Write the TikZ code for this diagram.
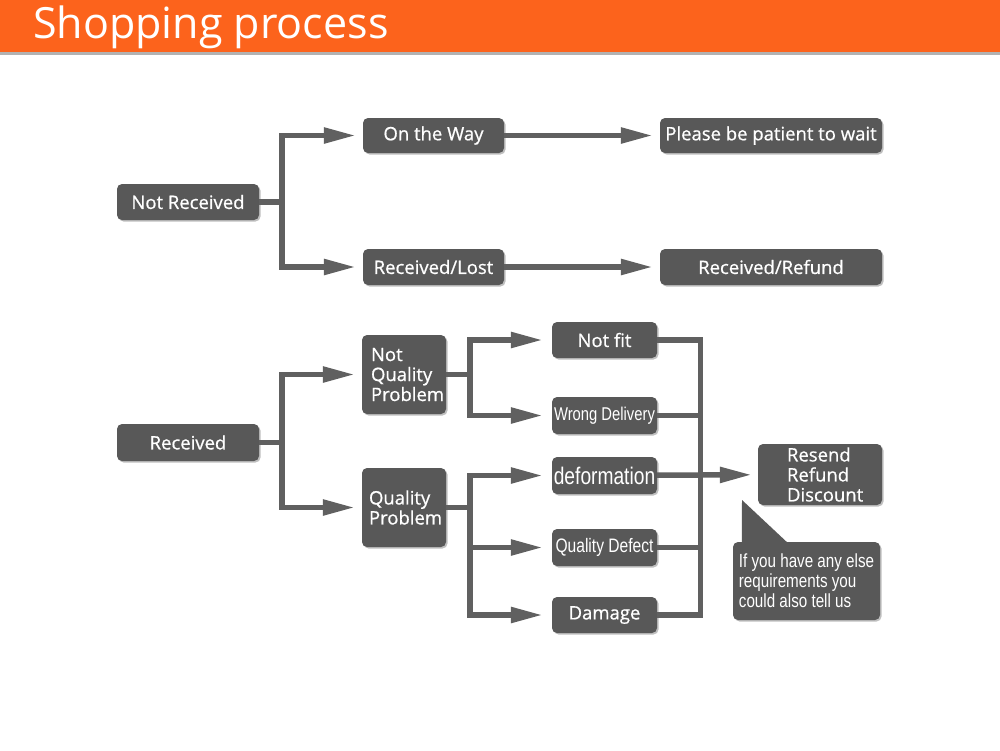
\documentclass[tikz,border=0pt]{standalone}
\usepackage{fontspec}
\setmainfont{Open Sans}
\newfontfamily\boxfont[FakeBold=0.7]{Open Sans}
\newfontfamily\narrowfont[FakeStretch=0.8]{Liberation Sans}
\usetikzlibrary{positioning,arrows.meta,shadows}
\definecolor{headorange}{RGB}{252,99,28}
\definecolor{boxgray}{RGB}{88,88,88}
\definecolor{linegray}{RGB}{96,96,96}
\tikzset{
x=1pt,y=-1pt,
box/.style={fill=boxgray,text=white,rounded corners=5pt,inner sep=0pt,
  font=\boxfont\fontsize{18.5}{20}\selectfont,
  drop shadow={shadow xshift=1.5pt,shadow yshift=-1.5pt,opacity=0.25,fill=black}},
narrow/.style={font=\narrowfont\fontsize{18.5}{20}\selectfont},
flow/.style={draw=linegray,line width=5.5pt},
flowa/.style={flow,-{Triangle[length=32pt,width=15pt]},shorten >=7pt}
}
\begin{document}
\begin{tikzpicture}
\useasboundingbox (0,0) rectangle (1000,750);
% header
\fill[headorange] (0,0) rectangle (1000,52);
\fill[black!30] (0,52) rectangle (1000,55);
\node[anchor=base west,inner sep=0pt,text=white,font=\fontsize{43}{46}\selectfont] (title) at (33,38) {Shopping process};

% not received part
\node[box,minimum width=142,minimum height=36] (notrec)  at (188,202)   {Not Received};
\node[box,minimum width=141,minimum height=35] (onway)   at (433.5,135.5) {On the Way};
\node[box,minimum width=141,minimum height=36] (reclost) at (433.5,267) {Received/Lost};
\node[box,minimum width=222,minimum height=35] (wait)    at (771,135.5) {Please be patient to wait};
\node[box,minimum width=222,minimum height=36] (refund)  at (771,267)   {Received/Refund};

% received part
\node[box,minimum width=142,minimum height=37] (rec) at (188,442.5) {Received};
\node[box,minimum width=84,minimum height=79,text width=66,align=left] (nqp) at (404,374.5) {Not\\Quality\\Problem};
\node[box,minimum width=84,minimum height=79,text width=70,align=left] (qp)  at (404,507.5) {Quality\\Problem};
\node[box,minimum width=105,minimum height=36] (notfit) at (604.5,340)   {Not fit};
\node[box,narrow,minimum width=105,minimum height=37] (wrong)  at (604.5,415.5) {Wrong Delivery};
\node[box,minimum width=105,minimum height=37,font=\narrowfont\fontsize{24}{26}\selectfont] (deform) at (604.5,475.5) {deformation};
\node[box,narrow,minimum width=105,minimum height=37,font=\narrowfont\fontsize{19.5}{20}\selectfont] (defect) at (604.5,547.5) {Quality Defect};
\node[box,minimum width=105,minimum height=36] (damage) at (604.5,615)   {Damage};
\node[box,minimum width=124,minimum height=61,text width=66,align=left] (resend) at (820,474.5) {Resend\\Refund\\Discount};
\node[box,minimum width=147,minimum height=78,align=left,
  font=\narrowfont\fontsize{19}{20}\selectfont] (note) at (806.5,581)
  {If you have any else\\requirements you\\could also tell us};
\coordinate (tip) at (742,500);
\fill[boxgray] (tip) -- ([xshift=9pt,yshift=-3pt]note.north west) -- ([xshift=57pt,yshift=-3pt]note.north west) -- cycle;

% junctions
\coordinate (j1) at (282,202);
\coordinate (j2) at (282,442.5);
\coordinate (j3) at (470,374.5);
\coordinate (j4) at (470,507.5);
\coordinate (bus) at (700.5,475);

\draw[flow] (notrec) -- (j1);
\draw[flowa] (j1) |- (onway);
\draw[flowa] (j1) |- (reclost);
\draw[flowa] (onway) -- (wait);
\draw[flowa] (reclost) -- (refund);

\draw[flow] (rec) -- (j2);
\draw[flowa] (j2) |- (nqp);
\draw[flowa] (j2) |- (qp);
\draw[flow] (nqp) -- (j3);
\draw[flowa,shorten >=9pt] (j3) |- (notfit);
\draw[flowa,shorten >=9pt] (j3) |- (wrong);
\draw[flow] (qp) -- (j4);
\draw[flowa,shorten >=9pt] (j4) |- (deform);
\draw[flowa,shorten >=9pt] (j4) |- (defect);
\draw[flowa,shorten >=9pt] (j4) |- (damage);

\draw[flow] (notfit) -| (bus);
\draw[flow] (damage) -| (bus);
\draw[flow] (wrong) -- (wrong -| bus);
\draw[flow] (defect) -- (defect -| bus);
\draw[flow] (deform) -- (bus);
\draw[flowa,shorten >=6pt] (bus) -- (resend);
\end{tikzpicture}
\end{document}
